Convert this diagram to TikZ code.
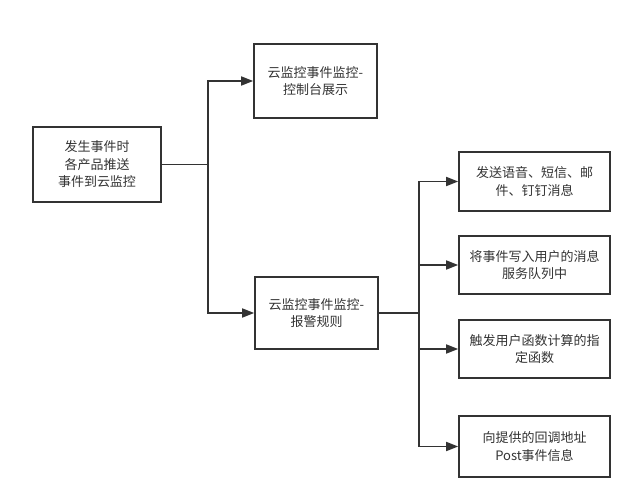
\documentclass[tikz,border=0pt]{standalone}
\usepackage{fontspec}
\setmainfont{Noto Sans CJK SC}
\usetikzlibrary{arrows.meta}
\definecolor{ln}{HTML}{333333}
\begin{document}
\begin{tikzpicture}[x=1pt,y=-1pt,
  box/.style={draw=ln,line width=1.7pt,fill=white,align=center,text=ln,
    font=\fontsize{13}{17.5}\selectfont,inner sep=0pt},
  conn/.style={draw=ln,line width=1.7pt},
  arr/.style={conn,-{Triangle[length=12pt,width=9pt]}}]
\useasboundingbox (0,0) rectangle (630,492);
% boxes
\node[box,minimum width=128pt,minimum height=75pt] (src) at (97,164.5) {发生事件时\\各产品推送\\事件到云监控};
\node[box,minimum width=123pt,minimum height=74pt] (con) at (315.5,81) {云监控事件监控-\\控制台展示};
\node[box,minimum width=123pt,minimum height=72pt] (alm) at (316.5,313) {云监控事件监控-\\报警规则};
\node[box,minimum width=151pt,minimum height=59pt] (r1) at (534.5,181.5) {发送语音、短信、邮\\件、钉钉消息};
\node[box,minimum width=151pt,minimum height=58pt] (r2) at (534.5,265) {将事件写入用户的消息\\服务队列中};
\node[box,minimum width=151pt,minimum height=58pt] (r3) at (534.5,349) {触发用户函数计算的指\\定函数};
\node[box,minimum width=151pt,minimum height=61pt] (r4) at (534.5,446.5) {向提供的回调地址\\Post事件信息};
% left trunk
\coordinate (j1) at (208,164.5);
\draw[conn] (src.east) -- (j1);
\draw[arr] (j1) |- (con.west);
\draw[arr] (j1) |- (alm.west);
% right trunk
\coordinate (j2) at (419,313);
\draw[conn] (alm.east) -- (j2);
\draw[arr] (j2) |- (r1.west);
\draw[arr] (j2) |- (r2.west);
\draw[arr] (j2) |- (r3.west);
\draw[arr] (j2) |- (r4.west);
\end{tikzpicture}
\end{document}
